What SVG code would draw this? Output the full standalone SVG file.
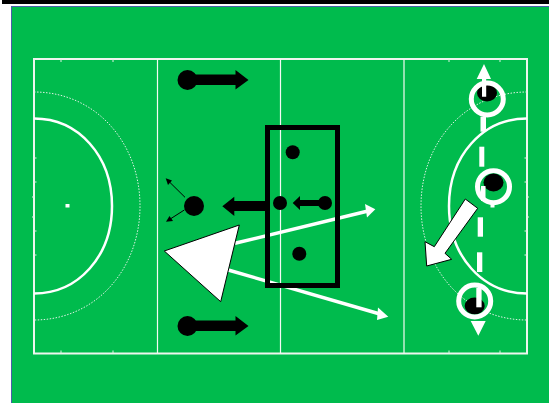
<svg xmlns="http://www.w3.org/2000/svg" width="549" height="403" viewBox="0 0 549 403">
<style>
.line{fill:none;stroke:#eef5ee;stroke-width:2}
.thin{fill:none;stroke:#f4faf4;stroke-width:1.2}
.arc{fill:none;stroke:#fff;stroke-width:2.500}
.dots{fill:none;stroke:#dff2e4;stroke-width:1;stroke-dasharray:1.500 1.500}
.blk{fill:#000}
.wht{fill:#fff}
.out{fill:#fff;stroke:#000;stroke-width:1}
.ring{fill:none;stroke:#fff;stroke-width:5}
.wl{stroke:#fff;stroke-width:3.500;fill:none}
.bl{stroke:#000;stroke-width:1;fill:none}
.dash{fill:#fff}
</style>
<rect width="549" height="403" fill="#fff"/>
<rect x="2" y="0" width="547" height="4" fill="#000"/>
<g id="pitch">
<rect x="11.500" y="6.500" width="538" height="397" fill="#00bb4d" stroke="#4a5fa8" stroke-width="1"/>
<rect x="34" y="59" width="493" height="294.500" class="line"/>
<path d="M157.500 59V353.500M280.500 59V353.500M404 59V353.500" class="thin"/>
<path d="M34 118.500C78.500 118.500 112 156 112 206S78.500 293.500 34 293.500" class="arc"/>
<path d="M527 118.500C482.500 118.500 449 156 449 206S482.500 293.500 527 293.500" class="arc"/>
<path d="M34 92C96 92 140 143 140 206S96 320 34 320" class="dots"/>
<path d="M527 92C465 92 421 143 421 206S465 320 527 320" class="dots"/>
<rect x="65.500" y="204" width="4" height="3.500" fill="#fff"/>
<path d="M61 59v3M113 59v3M61 353.500v-3M113 353.500v-3M449 59v3M500 59v3M449 353.500v-3M500 353.500v-3M34 158h2.500M34 182h2.500M32 197h2.500M32 217h2.500M34 231h2.500M34 255h2.500M527 158h-2.500M527 182h-2.500M529 197h-2.500M529 217h-2.500M527 231h-2.500M527 255h-2.500" stroke="#dff2e4" stroke-width="1" fill="none"/>
</g>
<g id="connectors">
<path class="wl" d="M235 243.300L367 211.300"/>
<path class="wht" d="M375.300 209.300L365 204L367 217.500Z"/>
<path class="wl" d="M228.300 270L379 313.800"/>
<path class="wht" d="M388.300 316.700L378 307.500L377 320Z"/>
<path class="bl" d="M185 197.300L170 182.500"/>
<path class="blk" d="M165.700 178.300L172 180.500L168 185Z"/>
<path class="bl" d="M184.300 210L171 218.500"/>
<path class="blk" d="M166 221.700L169.500 216L173 221Z"/>
</g>
<g id="player-top"><circle class="blk" cx="187.500" cy="80" r="10"/><path class="blk" d="M187 74.500H235.500V70L248.500 80L235.500 89.500V85H187Z"/></g>
<g id="player-bottom"><circle class="blk" cx="187.500" cy="326" r="10"/><path class="blk" d="M187 320.500H235.500V316L248.500 326L235.500 335.500V331H187Z"/></g>
<g id="player-mid"><circle class="blk" cx="194" cy="206" r="10"/></g>
<g id="mid-arrow"><path class="blk" d="M222.300 206.300L234.300 196.700V201H267V211H234.300V216Z"/></g>
<g id="box">
<rect x="267.500" y="127.500" width="70" height="158" fill="none" stroke="#000" stroke-width="5"/>
<circle class="blk" cx="292.700" cy="152.300" r="7"/>
<circle class="blk" cx="280" cy="203" r="7"/>
<circle class="blk" cx="325" cy="203" r="7"/>
<circle class="blk" cx="299.300" cy="253.700" r="7"/>
<path class="blk" d="M292.700 203L300 196V200H325V206H300V210Z"/>
</g>
<g id="triangle"><path class="out" d="M239.300 225L164.300 251L220.700 301.700Z"/></g>
<g id="big-arrow"><path class="out" d="M465.300 199L477.700 208.300L445 253.300L451.700 259.300L426.700 266L425 241.700L434.300 246.700Z"/></g>
<g id="right-players">
<ellipse class="blk" cx="487" cy="93" rx="10" ry="8.500"/>
<circle class="ring" cx="487.300" cy="99" r="16"/>
<circle class="ring" cx="493.500" cy="186.700" r="16"/>
<ellipse class="blk" cx="493.500" cy="182.500" rx="10" ry="9"/>
<ellipse class="blk" cx="474.700" cy="306" rx="10" ry="8.500"/>
<circle class="ring" cx="474.700" cy="301" r="16"/>
</g>
<g id="run">
<path class="wht" d="M484 64L491 79H486.200V96.700H482V79H476.700Z"/>
<rect class="dash" x="480.500" y="116.700" width="5.500" height="15"/>
<rect class="dash" x="479.300" y="146.700" width="5" height="20"/>
<rect class="dash" x="481" y="186" width="4.500" height="15"/>
<rect class="dash" x="490.500" y="202" width="4" height="5.500"/>
<rect class="dash" x="477.700" y="217.300" width="5.300" height="19.400"/>
<rect class="dash" x="477" y="252.300" width="5.300" height="19.700"/>
<rect class="dash" x="476.300" y="288" width="5.300" height="19.300"/>
<path class="wht" d="M470.700 321H485.700L478.300 335.700Z"/>
</g>
</svg>
